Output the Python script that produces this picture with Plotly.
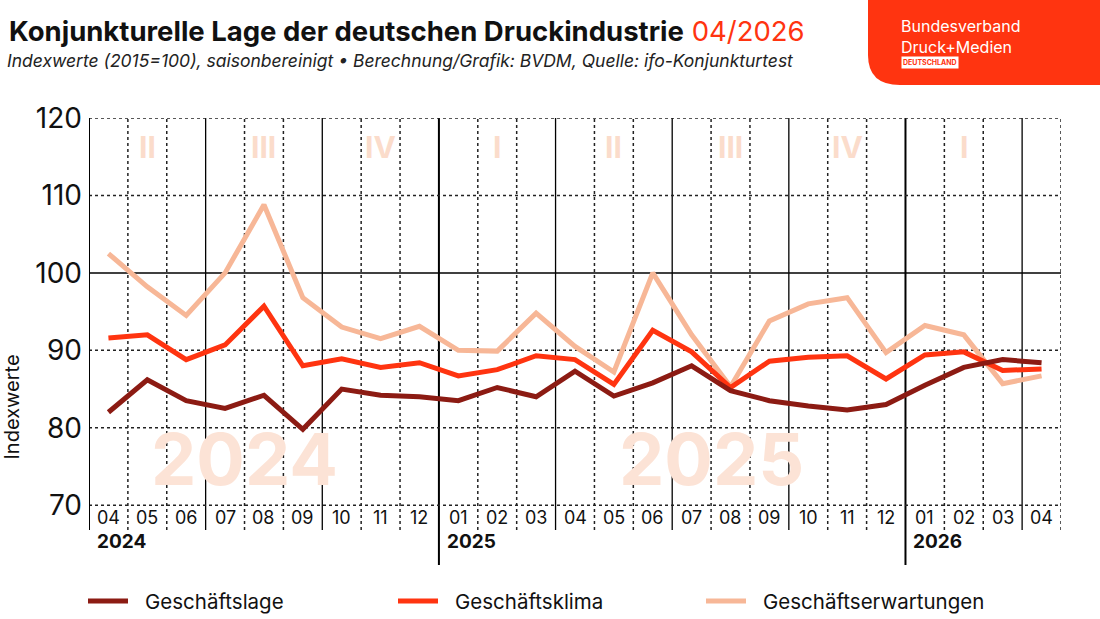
import plotly.graph_objects as go

months = ["04","05","06","07","08","09","10","11","12","01","02","03","04","05","06","07","08","09","10","11","12","01","02","03","04"]
lage = [82.0,86.2,83.5,82.5,84.2,79.8,85.0,84.2,84.0,83.5,85.2,84.0,87.3,84.1,85.8,88.0,84.8,83.5,82.8,82.3,83.0,85.5,87.8,88.8,88.4]
klima = [91.6,92.0,88.8,90.7,95.7,88.0,88.9,87.8,88.4,86.7,87.5,89.3,88.8,85.6,92.6,89.8,85.2,88.6,89.1,89.3,86.3,89.4,89.8,87.4,87.6]
erw = [102.5,98.2,94.5,100.0,108.8,96.8,93.0,91.5,93.1,90.0,89.9,94.8,90.5,87.2,100.0,92.0,85.3,93.8,96.0,96.8,89.7,93.2,92.0,85.7,86.7]
quarters = ["II","III","IV","I","II","III","IV","I"]
quarter_pos = [1,4,7,10,13,16,19,22]
years = ["2024","2025","2026"]
year_pos = [-0.5,8.5,20.5]
series_names = ["Geschäftslage","Geschäftsklima","Geschäftserwartungen"]
colors = ["#8C1B13","#FF3410","#F7B797"]

FONT = "Inter, Lato, sans-serif"
x = list(range(len(months)))
fig = go.Figure()
for name, vals, c in [(series_names[2], erw, colors[2]), (series_names[1], klima, colors[1]), (series_names[0], lage, colors[0])]:
    fig.add_trace(go.Scatter(x=x, y=vals, mode="lines", name=name,
                             line=dict(color=c, width=5), showlegend=False))

shapes = []
YB = 66.8
for v in [70, 80, 90, 110, 120]:
    shapes.append(dict(type="line", xref="x", yref="y", x0=-0.5, x1=24.5, y0=v, y1=v,
                       line=dict(color="#222", width=1.5, dash="dot"), layer="below"))
shapes.append(dict(type="line", xref="x", yref="y", x0=-0.5, x1=24.5, y0=100, y1=100,
                   line=dict(color="#000", width=1.5), layer="below"))
for i in range(len(months) + 1):
    b = i - 0.5
    if i == 0:
        shapes.append(dict(type="line", xref="x", yref="y", x0=b, x1=b, y0=YB, y1=120,
                           line=dict(color="#000", width=2)))
    elif i % 3 == 0 and i < len(months):
        yr = b in year_pos
        shapes.append(dict(type="line", xref="x", yref="paper", x0=b, x1=b,
                           y0=-0.085 if yr else 0, y1=1,
                           line=dict(color="#000", width=2 if yr else 1.3), layer="below"))
    else:
        shapes.append(dict(type="line", xref="x", yref="y", x0=b, x1=b, y0=YB, y1=120,
                           line=dict(color="#222", width=1.5, dash="dot"), layer="below"))

annotations = []
annotations.append(dict(x=3.5, y=76.0, xref="x", yref="y", text="<b>2024</b>", showarrow=False,
                        font=dict(family=FONT, size=72, color="#FCE3D6")))
annotations.append(dict(x=15.5, y=76.0, xref="x", yref="y", text="<b>2025</b>", showarrow=False,
                        font=dict(family=FONT, size=72, color="#FCE3D6")))
for m, xi in zip(months, x):
    annotations.append(dict(x=xi, y=68.4, xref="x", yref="y", text=m, showarrow=False,
                            font=dict(family=FONT, size=18, color="#111")))
for q, qp in zip(quarters, quarter_pos):
    annotations.append(dict(x=qp, y=116.3, xref="x", yref="y", text="<b>" + q + "</b>", showarrow=False,
                            font=dict(family=FONT, size=30, color="#FBDCCB")))
for yl, yp in zip(years, year_pos):
    annotations.append(dict(x=yp + 0.15, y=-0.06, xref="x", yref="paper", text="<b>" + yl + "</b>",
                            showarrow=False, xanchor="left", font=dict(family=FONT, size=19, color="#111")))
def px(p): return (p - 89) / 972
def py(p): return (530 - p) / 412
annotations.append(dict(x=px(25), y=py(462), xref="paper", yref="paper", text="Indexwerte", textangle=-90,
                        showarrow=False, xanchor="right", font=dict(family=FONT, size=20, color="#111")))
annotations.append(dict(x=px(7), y=py(31), xref="paper", yref="paper", xanchor="left", yanchor="middle",
                        text="<b>Konjunkturelle Lage der deutschen Druckindustrie</b> <span style='color:#FF3410'>04/2026</span>",
                        showarrow=False, font=dict(family=FONT, size=27.5, color="#111")))
annotations.append(dict(x=px(5), y=py(60), xref="paper", yref="paper", xanchor="left", yanchor="middle",
                        text="<i>Indexwerte (2015=100), saisonbereinigt • Berechnung/Grafik: BVDM, Quelle: ifo-Konjunkturtest</i>",
                        showarrow=False, font=dict(family=FONT, size=17.5, color="#222")))
path = (f"M {px(868)},{py(0)} L {px(1110)},{py(0)} L {px(1110)},{py(85)} L {px(900)},{py(85)} "
        f"Q {px(868)},{py(85)} {px(868)},{py(55)} Z")
shapes.append(dict(type="path", xref="paper", yref="paper", path=path, fillcolor="#FF3410", line=dict(width=0)))
annotations.append(dict(x=px(899), y=py(37), xref="paper", yref="paper", xanchor="left", yanchor="middle",
                        text="Bundesverband<br>Druck+Medien", showarrow=False, align="left",
                        font=dict(family=FONT, size=16, color="white")))
annotations.append(dict(x=px(901), y=py(62), xref="paper", yref="paper", text="<b>DEUTSCHLAND</b>",
                        showarrow=False, xanchor="left", yanchor="middle", bgcolor="white", borderpad=1,
                        font=dict(family=FONT, size=7, color="#FF3410")))
for name, c, lx in zip(series_names, colors, [88, 398, 706]):
    shapes.append(dict(type="line", xref="paper", yref="paper", x0=px(lx), x1=px(lx + 40), y0=py(601), y1=py(601),
                       line=dict(color=c, width=5)))
    annotations.append(dict(x=px(lx + 55), y=py(601), xref="paper", yref="paper", xanchor="left", yanchor="middle",
                            text=name, showarrow=False, font=dict(family=FONT, size=20.5, color="#111")))

fig.update_layout(
    width=1100, height=619, margin=dict(l=89, r=39, t=118, b=89),
    paper_bgcolor="white", plot_bgcolor="white",
    xaxis=dict(range=[-0.5, 24.5], showgrid=False, showticklabels=False, zeroline=False, fixedrange=True),
    yaxis=dict(range=[YB, 120], showgrid=False, zeroline=False, tickvals=[70, 80, 90, 100, 110, 120],
               tickfont=dict(family=FONT, size=28, color="#111"), ticks="", ticklabelstandoff=6),
    shapes=shapes, annotations=annotations, showlegend=False,
)
fig.write_html("out.html", post_script="document.body.style.margin='0';", config={"displayModeBar": False})
